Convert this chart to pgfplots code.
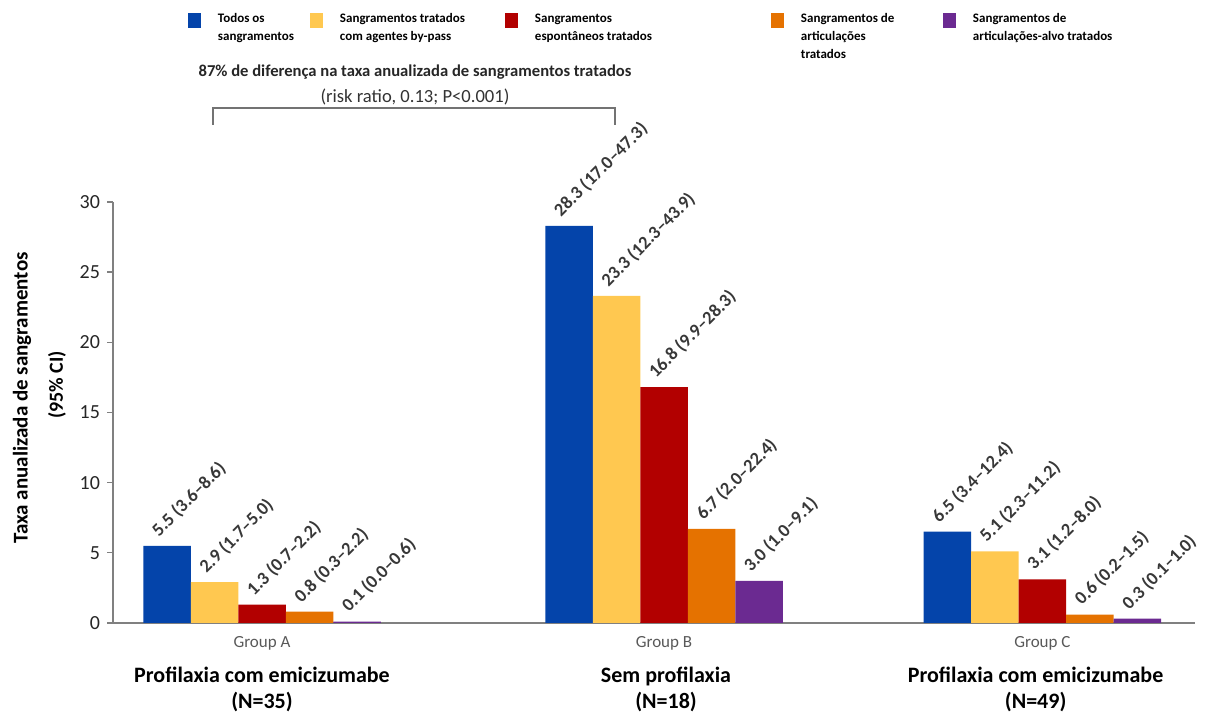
\documentclass[border=0pt]{standalone}
\usepackage{fontspec}
\setmainfont{Carlito}
\usepackage{pgfplots}
\pgfplotsset{compat=1.18}
\definecolor{cblue}{RGB}{4,68,170}
\definecolor{cyellow}{RGB}{255,200,80}
\definecolor{cred}{RGB}{178,0,0}
\definecolor{corange}{RGB}{229,114,0}
\definecolor{cpurple}{RGB}{107,42,145}
\definecolor{axgray}{RGB}{128,128,128}
\pgfplotsset{
  mybar/.style={
    ybar, bar width=0.11875, bar shift=0pt, draw=none,
    nodes near coords, point meta=explicit symbolic,
    legend image code/.code={\fill[##1,draw=none] (0pt,-2.5pt) rectangle (6.5pt,5pt); \path[draw=none,fill=none] (0pt,0pt) rectangle (15pt,0.1pt);},
    every node near coord/.append style={font=\bfseries\fontsize{9.2}{11}\selectfont, text=black!78, inner sep=0pt, xshift=-3pt, yshift=3pt, rotate=45, anchor=south west},
  },
}
\begin{document}
\begin{tikzpicture}
\begin{axis}[
  scale only axis, width=541pt, height=210.5pt,
  xmin=-0.3725, xmax=2.3325, ymin=0, ymax=30,
  axis x line=bottom, axis y line=left,
  axis line style={-, draw=axgray, line width=0.75pt},
  ytick={0,5,...,30}, tick align=outside, major tick length=3pt,
  ytick style={draw=axgray, line width=0.6pt},
  xtick style={draw=none},
  yticklabel style={font=\fontsize{10}{12}\selectfont, text=black!85},
  /pgf/number format/assume math mode=true,
  xtick={0,1.005,1.951}, xticklabels={Group A, Group B, Group C},
  xticklabel style={font=\fontsize{8.5}{10}\selectfont, text=black!65},
  clip=false,
  legend columns=5,
  legend style={at={(0.0693,1.449)}, anchor=north west, draw=none, fill=none,
    inner sep=0pt, outer sep=0pt, cells={anchor=base west},
    nodes={inner sep=0pt, text depth=0pt},
    font=\bfseries\fontsize{6.5}{9}\selectfont},
]
\addplot[mybar, fill=cblue] coordinates {
  (-0.2375,5.5) [5.5 (3.6–8.6)] (0.7675,28.3) [28.3 (17.0–47.3)] (1.7135,6.5) [6.5 (3.4–12.4)]};
\addlegendentry{\parbox[t]{46pt}{\raggedright Todos os\\sangramentos}}
\addplot[mybar, fill=cyellow] coordinates {
  (-0.11875,2.9) [2.9 (1.7–5.0)] (0.88625,23.3) [23.3 (12.3–43.9)] (1.83225,5.1) [5.1 (2.3–11.2)]};
\addlegendentry{\parbox[t]{82.5pt}{\raggedright Sangramentos tratados\\com agentes by-pass}}
\addplot[mybar, fill=cred] coordinates {
  (0,1.3) [1.3 (0.7–2.2)] (1.005,16.8) [16.8 (9.9–28.3)] (1.951,3.1) [3.1 (1.2–8.0)]};
\addlegendentry{\parbox[t]{118pt}{\raggedright Sangramentos\\espontâneos tratados}}
\addplot[mybar, fill=corange] coordinates {
  (0.11875,0.8) [0.8 (0.3–2.2)] (1.12375,6.7) [6.7 (2.0–22.4)] (2.06975,0.6) [0.6 (0.2–1.5)]};
\addlegendentry{\parbox[t]{71pt}{\raggedright Sangramentos de\\articulações\\tratados}}
\addplot[mybar, fill=cpurple] coordinates {
  (0.2375,0.1) [0.1 (0.0–0.6)] (1.2425,3.0) [3.0 (1.0–9.1)] (2.1885,0.3) [0.3 (0.1–1.0)]};
\addlegendentry{\parbox[t]{85pt}{\raggedright Sangramentos de\\articulações-alvo tratados}}
\addplot[sharp plot, no marks, draw=black!55, line width=0.75pt, forget plot] coordinates {
  (-0.1225,35.5) (-0.1225,36.7) (0.8825,36.7) (0.8825,35.5)};
\node[font=\bfseries\fontsize{8.3}{10}\selectfont, text=black!85] at (axis cs:0.3825,39.26) {87\% de diferença na taxa anualizada de sangramentos tratados};
\node[font=\fontsize{9.3}{11}\selectfont, text=black!80] at (axis cs:0.3825,37.48) {(risk ratio, 0.13; P<0.001)};
\node[font=\bfseries\fontsize{11}{13}\selectfont, align=center, anchor=north, inner sep=0pt] at (axis cs:0,-3.1) {Profilaxia com emicizumabe\\(N=35)};
\node[font=\bfseries\fontsize{11}{13}\selectfont, align=center, anchor=north, inner sep=0pt] at (axis cs:1.01,-3.1) {Sem profilaxia\\(N=18)};
\node[font=\bfseries\fontsize{11}{13}\selectfont, align=center, anchor=north, inner sep=0pt] at (axis cs:1.934,-3.1) {Profilaxia com emicizumabe\\(N=49)};
\node[rotate=90, font=\bfseries\fontsize{10.5}{12}\selectfont] at (axis cs:-0.6,16.03) {Taxa anualizada de sangramentos};
\node[rotate=90, font=\bfseries\fontsize{10}{12}\selectfont] at (axis cs:-0.5125,16.96) {(95\% CI)};
\coordinate (TL) at (axis cs:-0.655,44.39);
\coordinate (BR) at (axis cs:2.3775,-6.556);
\end{axis}
\pgfresetboundingbox
\useasboundingbox (TL) rectangle (BR);
\end{tikzpicture}
\end{document}
